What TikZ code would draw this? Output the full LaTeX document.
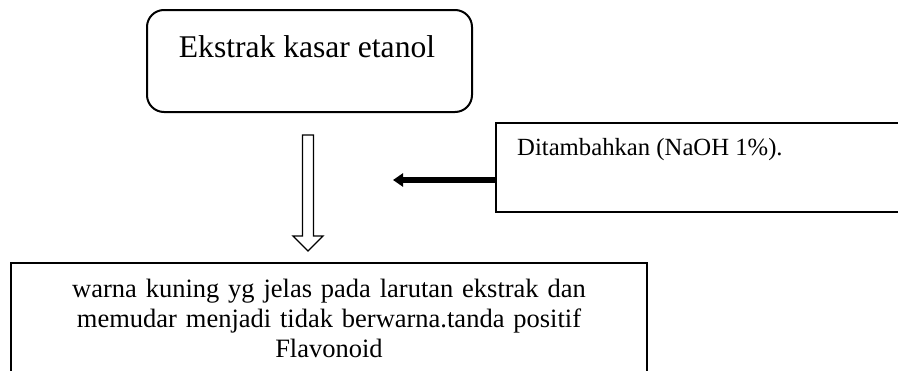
\documentclass[tikz,border=0pt]{standalone}
\usepackage{fontspec}
\setmainfont{Liberation Serif}
\usetikzlibrary{arrows.meta,calc}
\begin{document}
\begin{tikzpicture}[x=1pt,y=-1pt,
  roundbox/.style={draw, line width=2pt, rounded corners=17pt, minimum width=325pt, minimum height=102pt, inner sep=0pt},
  plainbox/.style={draw, line width=2pt, inner sep=0pt},
  hollowarrow/.style={draw, line width=1.4pt, line join=miter},
  pusharrow/.style={line width=6pt, -{Triangle[length=10pt,width=13pt]}},
  bigtext/.style={font=\fontsize{31.6}{38}\selectfont, inner sep=0pt},
  midtext/.style={font=\fontsize{24.7}{30}\selectfont, inner sep=0pt},
  lowtext/.style={font=\fontsize{26.5}{30}\selectfont, inner sep=0pt, text width=620pt, align=center},
]
\useasboundingbox (0,0) rectangle (898,370);
\clip (0,0) rectangle (898,370);

% boxes
\node[roundbox] (top) at (309.5,61) {};
\node[plainbox, minimum width=414pt, minimum height=89pt] (add) at (703,167.5) {};
\node[plainbox, minimum width=636pt, minimum height=132pt] (result) at (329,329) {};

% texts
\node[bigtext, anchor=base] (toptext) at (307,57) {Ekstrak kasar etanol};
\node[midtext, anchor=base west] (addtext) at (517,155) {Ditambahkan (NaOH 1\%).};
\node[lowtext, anchor=base] (restext) at (329,297)
  {warna kuning yg jelas pada larutan ekstrak dan\\
   memudar menjadi tidak berwarna.tanda positif\\
   Flavonoid};

% hollow block arrow from the extract box down to the result box
\coordinate (aTop) at ($(top.south)+(-1.5,22)$);
\coordinate (hBase) at ($(result.north)+(0,-26)$);
\coordinate (hTip) at ($(result.north)+(0,-11)$);
\coordinate (aBase) at (aTop |- hBase);
\coordinate (aTip) at (aTop |- hTip);
\draw[hollowarrow]
  ($(aTop)+(-5.5,0)$) -- ($(aBase)+(-5.5,0)$) -- ($(aBase)+(-15,0)$) -- (aTip)
  -- ($(aBase)+(15,0)$) -- ($(aBase)+(5.5,0)$) -- ($(aTop)+(5.5,0)$) -- cycle;

% reagent arrow pointing at the flow
\coordinate (pushEnd) at (393,180);
\draw[pusharrow] ([yshift=-12.5pt]add.west) -- (pushEnd);
\end{tikzpicture}
\end{document}
